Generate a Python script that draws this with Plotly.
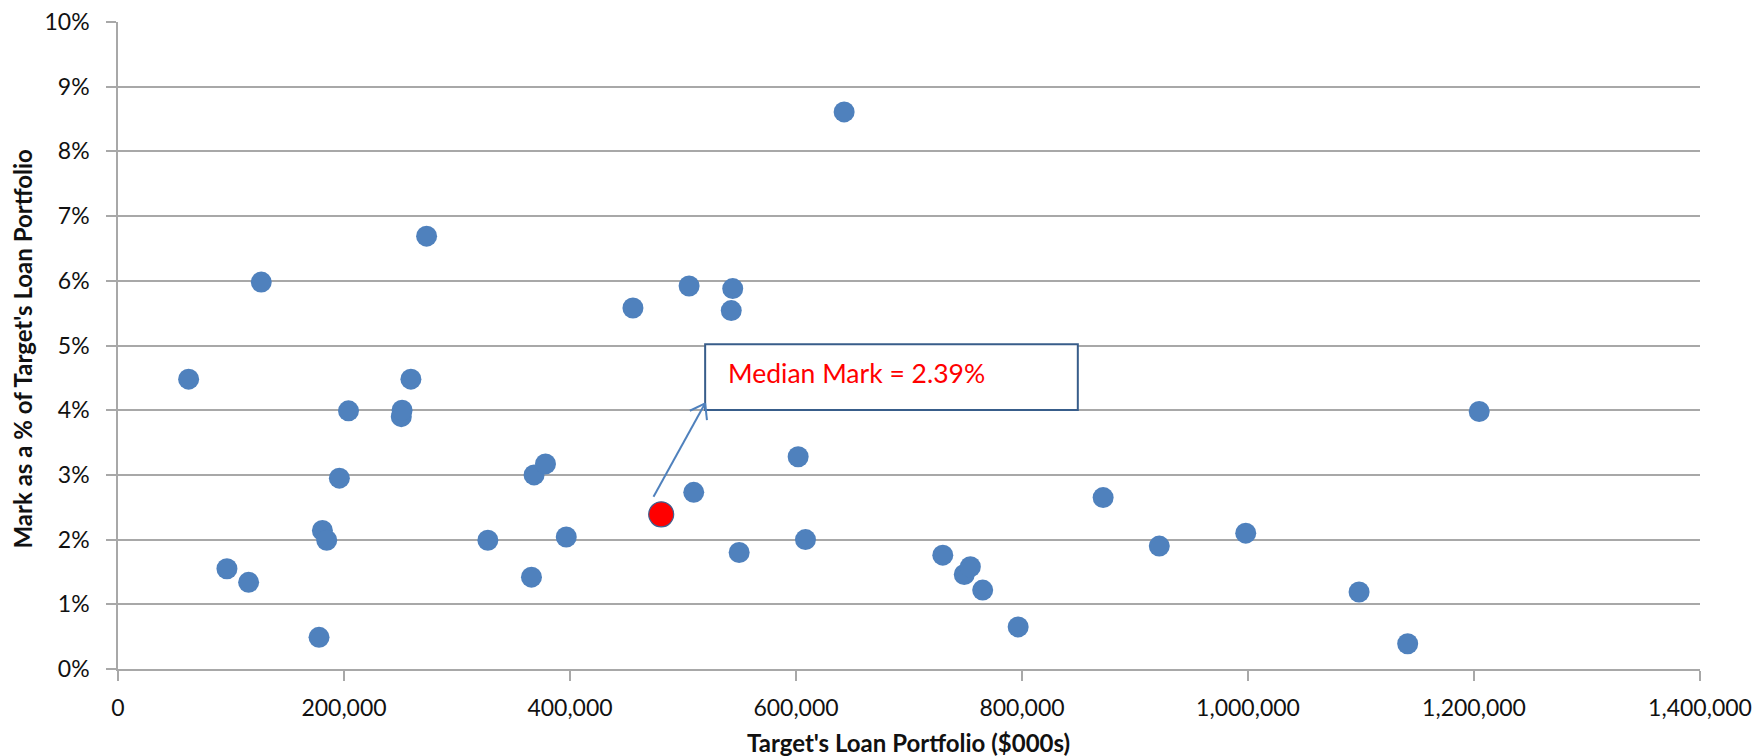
import math
import plotly.graph_objects as go

# Deal data: target loan portfolio ($000s) and mark as a share of the portfolio
loan_portfolio = [
    62500, 96400, 115600, 126800, 177900, 180900, 184700, 195900, 204000,
    250700, 251400, 259200, 273100, 327300, 365900, 368200, 378300, 396700,
    455700, 505400, 509500, 542700, 544000, 549700, 601900, 608400, 642600,
    729900, 748900, 754300, 765200, 796600, 871800, 921500, 998000, 1098300,
    1141300, 1204600,
]
mark_pct = [
    0.0448, 0.0155, 0.0134, 0.0598, 0.0049, 0.0214, 0.0199, 0.0295, 0.0399,
    0.0390, 0.0400, 0.0448, 0.0669, 0.0199, 0.0142, 0.0300, 0.0317, 0.0204,
    0.0558, 0.0592, 0.0273, 0.0554, 0.0588, 0.0180, 0.0328, 0.0200, 0.0861,
    0.0176, 0.0146, 0.0158, 0.0122, 0.0065, 0.0265, 0.0190, 0.0210, 0.0119,
    0.0039, 0.0398,
]

# Median deal, highlighted
median_portfolio = [480700]
median_mark = [0.0239]
median_label = "Median Mark = 2.39%"

x_ticks = [0, 200000, 400000, 600000, 800000, 1000000, 1200000, 1400000]
y_ticks = [0.00, 0.01, 0.02, 0.03, 0.04, 0.05, 0.06, 0.07, 0.08, 0.09, 0.10]

# Callout box and arrow, in data units
box_x0, box_x1 = 519600, 849400
box_y0, box_y1 = 0.04003, 0.05019
label_x, label_y = 538200, 0.0457
arrow_tail = (473900, 0.02663)
arrow_tip = (519600, 0.04107)

# Figure geometry
W, H = 1753, 756
L, R, T, B = 118, 53, 22, 87
PW, PH = W - L - R, H - T - B
X_MAX, Y_MAX = 1400000, 0.10

FONT = "Lato"
BLUE = "#4F81BD"
GRID = "#A8A8A8"
TEXT = "#111111"


def to_px(x, y):
    return L + x / X_MAX * PW, T + (1 - y / Y_MAX) * PH


def to_data(px, py):
    return (px - L) / PW * X_MAX, (1 - (py - T) / PH) * Y_MAX


fig = go.Figure()

fig.add_trace(go.Scatter(
    x=loan_portfolio, y=mark_pct, mode="markers",
    marker=dict(size=21, color=BLUE, line=dict(width=0)),
    hoverinfo="x+y", showlegend=False,
))
fig.add_trace(go.Scatter(
    x=median_portfolio, y=median_mark, mode="markers",
    marker=dict(size=25, color="#FF0000", line=dict(width=1.2, color="#3F5F8F")),
    hoverinfo="x+y", showlegend=False,
))

shapes = []
# callout box
shapes.append(dict(
    type="rect", xref="x", yref="y",
    x0=box_x0, x1=box_x1, y0=box_y0, y1=box_y1,
    line=dict(color="#385D8A", width=2), fillcolor="white", layer="above",
))
# arrow shaft from the median point to the box corner
shapes.append(dict(
    type="line", xref="x", yref="y",
    x0=arrow_tail[0], y0=arrow_tail[1], x1=arrow_tip[0], y1=arrow_tip[1],
    line=dict(color=BLUE, width=2),
))
# open arrow head
tpx, tpy = to_px(*arrow_tip)
spx, spy = to_px(*arrow_tail)
ang = math.atan2(spy - tpy, spx - tpx)
for d in (math.radians(35), -math.radians(35)):
    hx = tpx + 17 * math.cos(ang + d)
    hy = tpy + 17 * math.sin(ang + d)
    ex, ey = to_data(hx, hy)
    shapes.append(dict(
        type="line", xref="x", yref="y",
        x0=arrow_tip[0], y0=arrow_tip[1], x1=ex, y1=ey,
        line=dict(color=BLUE, width=2),
    ))

annotations = [
    dict(
        x=label_x, y=label_y, xref="x", yref="y", text=median_label,
        showarrow=False, xanchor="left", yanchor="middle",
        font=dict(family=FONT, size=26.5, color="#FF0000"),
    ),
    dict(
        x=(908 - L) / PW, y=(T + PH - 742) / PH, xref="paper", yref="paper",
        text="<b>Target's Loan Portfolio ($000s)</b>", showarrow=False,
        xanchor="center", yanchor="middle",
        font=dict(family=FONT, size=24, color=TEXT),
    ),
    dict(
        x=(22 - L) / PW, y=(T + PH - 349.5) / PH, xref="paper", yref="paper",
        text="<b>Mark as a % of Target's Loan Portfolio</b>", showarrow=False,
        textangle=-90, xanchor="center", yanchor="middle",
        font=dict(family=FONT, size=24, color=TEXT),
    ),
]

fig.update_layout(
    width=W, height=H, autosize=False,
    margin=dict(l=L, r=R, t=T, b=B, pad=0, autoexpand=False),
    paper_bgcolor="white", plot_bgcolor="white",
    font=dict(family=FONT, color=TEXT),
    shapes=shapes, annotations=annotations,
    showlegend=False,
)
fig.update_xaxes(
    range=[0, X_MAX], tickvals=x_ticks, tickformat=",d", automargin=False,
    showgrid=False, zeroline=False,
    showline=True, linecolor=GRID, linewidth=1.5,
    ticks="outside", ticklen=10, tickwidth=1.5, tickcolor=GRID,
    tickfont=dict(family=FONT, size=23, color=TEXT),
    ticklabelstandoff=8,
)
fig.update_yaxes(
    range=[0, Y_MAX], tickvals=y_ticks, tickformat=".0%", automargin=False,
    showgrid=True, gridcolor=GRID, gridwidth=1.5, zeroline=False,
    showline=True, linecolor=GRID, linewidth=1.5,
    ticks="outside", ticklen=10, tickwidth=1.5, tickcolor=GRID,
    tickfont=dict(family=FONT, size=23, color=TEXT),
    ticklabelstandoff=12,
)

fig.write_html("out.html")
